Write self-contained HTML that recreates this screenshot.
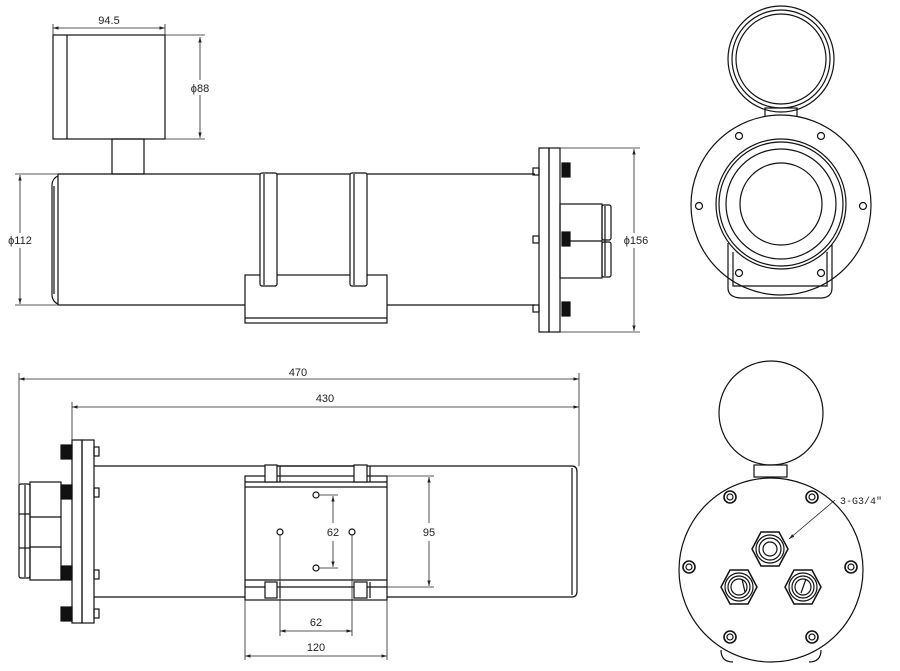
<!DOCTYPE html>
<html><head><meta charset="utf-8"><style>
html,body{margin:0;padding:0;background:#fff;}
svg{display:block;}
text{font-family:"Liberation Sans",sans-serif;font-size:11px;fill:#222;}
</style></head><body>
<svg width="900" height="671" viewBox="0 0 900 671" xmlns="http://www.w3.org/2000/svg">
<defs>
<marker id="a" viewBox="0 0 10 10" refX="10" refY="5" markerWidth="7" markerHeight="7" orient="auto-start-reverse"><path d="M0,2 L10,5 L0,8 z" fill="#222"/></marker>
</defs>
<g fill="none" stroke="#111" stroke-width="1.2">
<!-- ===== TOP SIDE VIEW ===== -->
<rect x="53" y="35" width="112" height="104"/>
<line x1="67" y1="35" x2="67" y2="139"/>
<rect x="112" y="139" width="32" height="35"/>
<line x1="58" y1="174" x2="535" y2="174"/>
<line x1="58" y1="305" x2="535" y2="305"/>
<line x1="58" y1="174" x2="58" y2="305"/>
<path d="M58,176 Q53,178 52,184 L52,296 Q53,302 58,304"/>
<line x1="54" y1="186" x2="54" y2="294"/>
<rect x="245" y="275" width="142" height="48" fill="#fff"/>
<line x1="245" y1="318" x2="387" y2="318"/>
<rect x="260" y="173" width="17" height="113" rx="2" fill="#fff"/>
<line x1="264" y1="174" x2="264" y2="285"/>
<rect x="350" y="173" width="17" height="113" rx="2" fill="#fff"/>
<line x1="354" y1="174" x2="354" y2="285"/>
<rect x="533" y="168" width="6" height="7"/>
<rect x="533" y="236" width="6" height="7"/>
<rect x="533" y="305" width="6" height="7"/>
<rect x="539" y="148" width="10" height="184"/>
<rect x="549" y="148" width="11" height="184"/>
<rect x="562" y="163" width="8" height="14" fill="#111"/>
<rect x="562" y="232" width="8" height="14" fill="#111"/>
<rect x="562" y="302" width="8" height="14" fill="#111"/>
<rect x="560" y="204" width="42" height="74"/>
<line x1="570" y1="241" x2="602" y2="241"/>
<rect x="602" y="205" width="9" height="35" rx="2"/>
<rect x="602" y="242" width="9" height="35" rx="2"/>
<line x1="605" y1="206" x2="605" y2="276"/>

<!-- ===== BOTTOM VIEW ===== -->
<rect x="72" y="440" width="10" height="183"/>
<rect x="82" y="440" width="12" height="183"/>
<rect x="94" y="447" width="5" height="9"/>
<rect x="94" y="488" width="5" height="9"/>
<rect x="94" y="570" width="5" height="9"/>
<rect x="94" y="609" width="5" height="9"/>
<rect x="61" y="445" width="11" height="14" fill="#111"/>
<rect x="61" y="485" width="11" height="14" fill="#111"/>
<rect x="61" y="566" width="11" height="14" fill="#111"/>
<rect x="61" y="607" width="11" height="14" fill="#111"/>
<rect x="30" y="482" width="31" height="98"/>
<line x1="30" y1="517" x2="61" y2="517"/>
<line x1="30" y1="547" x2="61" y2="547"/>
<rect x="19" y="484" width="11" height="94" rx="2"/>
<line x1="25" y1="485" x2="25" y2="577"/>
<line x1="19" y1="514" x2="30" y2="514"/>
<line x1="19" y1="548" x2="30" y2="548"/>
<path d="M94,466 L572,466 Q577,466 577,472 L577,591 Q577,597 572,597 L94,597"/>
<line x1="572" y1="468" x2="572" y2="595"/>
<rect x="245" y="476" width="142" height="124" fill="#fff"/>
<line x1="245" y1="482" x2="387" y2="482"/>
<line x1="245" y1="487" x2="387" y2="487"/>
<line x1="245" y1="580" x2="387" y2="580"/>
<line x1="245" y1="587" x2="387" y2="587"/>
<line x1="277" y1="466" x2="354" y2="466"/>
<rect x="265" y="465" width="12" height="17" fill="#fff"/>
<rect x="354" y="465" width="13" height="17" fill="#fff"/>
<rect x="265" y="582" width="12" height="16" fill="#fff"/>
<rect x="354" y="582" width="13" height="16" fill="#fff"/>
<line x1="280" y1="466" x2="280" y2="482"/>
<line x1="370" y1="466" x2="370" y2="482"/>
<line x1="280" y1="582" x2="280" y2="598"/>
<line x1="370" y1="582" x2="370" y2="598"/>
<circle cx="316" cy="495" r="3"/>
<circle cx="316" cy="568" r="3"/>
<circle cx="280" cy="532" r="3"/>
<circle cx="352" cy="532" r="3"/>
</g>

<g fill="none" stroke="#222" stroke-width="0.8">
<line x1="53" y1="24" x2="53" y2="35"/><line x1="165" y1="24" x2="165" y2="35"/>
<line x1="53" y1="28" x2="165" y2="28" marker-start="url(#a)" marker-end="url(#a)"/>
<line x1="165" y1="35" x2="205" y2="35"/><line x1="165" y1="139" x2="205" y2="139"/>
<line x1="200" y1="37" x2="200" y2="80" marker-start="url(#a)"/>
<line x1="200" y1="95" x2="200" y2="138" marker-end="url(#a)"/>
<line x1="15" y1="174" x2="58" y2="174"/><line x1="15" y1="305" x2="58" y2="305"/>
<line x1="20" y1="175" x2="20" y2="233" marker-start="url(#a)"/>
<line x1="20" y1="248" x2="20" y2="304" marker-end="url(#a)"/>
<line x1="560" y1="148" x2="640" y2="148"/><line x1="560" y1="332" x2="640" y2="332"/>
<line x1="634" y1="149" x2="634" y2="233" marker-start="url(#a)"/>
<line x1="634" y1="248" x2="634" y2="331" marker-end="url(#a)"/>
<line x1="19" y1="373" x2="19" y2="485"/><line x1="579" y1="373" x2="579" y2="466"/>
<line x1="19" y1="379" x2="579" y2="379" marker-start="url(#a)" marker-end="url(#a)"/>
<line x1="72" y1="402" x2="72" y2="440"/>
<line x1="72" y1="407" x2="579" y2="407" marker-start="url(#a)" marker-end="url(#a)"/>
<line x1="319" y1="495" x2="338" y2="495"/><line x1="319" y1="568" x2="338" y2="568"/>
<line x1="333" y1="496" x2="333" y2="523" marker-start="url(#a)"/>
<line x1="333" y1="541" x2="333" y2="567" marker-end="url(#a)"/>
<line x1="280" y1="535" x2="280" y2="636"/><line x1="352" y1="535" x2="352" y2="636"/>
<line x1="280" y1="631" x2="352" y2="631" marker-start="url(#a)" marker-end="url(#a)"/>
<line x1="245" y1="600" x2="245" y2="660"/><line x1="387" y1="600" x2="387" y2="660"/>
<line x1="245" y1="656" x2="387" y2="656" marker-start="url(#a)" marker-end="url(#a)"/>
<line x1="387" y1="476" x2="434" y2="476"/><line x1="387" y1="587" x2="434" y2="587"/>
<line x1="429" y1="477" x2="429" y2="523" marker-start="url(#a)"/>
<line x1="429" y1="541" x2="429" y2="586" marker-end="url(#a)"/>
</g>
<g>
<text x="109" y="24" text-anchor="middle">94.5</text>
<text x="200" y="92" text-anchor="middle">ϕ88</text>
<text x="20" y="244" text-anchor="middle">ϕ112</text>
<text x="636" y="244" text-anchor="middle">ϕ156</text>
<text x="298" y="376" text-anchor="middle">470</text>
<text x="325" y="402" text-anchor="middle">430</text>
<text x="333" y="536" text-anchor="middle">62</text>
<text x="316" y="626" text-anchor="middle">62</text>
<text x="316" y="651" text-anchor="middle">120</text>
<text x="429" y="536" text-anchor="middle">95</text>
<text x="840" y="504" style="font-family:'Liberation Mono',monospace;font-size:10px">3-G3/4"</text>
</g>

<!-- ===== RIGHT VIEWS ===== -->
<g fill="none" stroke="#111" stroke-width="1.2">
<circle cx="781" cy="59" r="53"/>
<circle cx="781" cy="59" r="49"/>
<circle cx="781" cy="59" r="45"/>
<rect x="765" y="108" width="32" height="10"/>
<circle cx="781" cy="205" r="90" fill="#fff"/>
<path d="M728,243 L728,288 Q728,297 740,298 L822,298 Q832,297 832,288 L832,243"/>
<path d="M733,252 L733,286 L827,286 L827,252"/>
<circle cx="781" cy="204" r="65" fill="#fff"/>
<circle cx="781" cy="204" r="62"/>
<circle cx="781" cy="204" r="55"/>
<circle cx="781" cy="204" r="41"/>
<circle cx="739" cy="136" r="3.5"/><circle cx="821" cy="136" r="3.5"/>
<circle cx="699" cy="206" r="3.5"/><circle cx="863" cy="206" r="3.5"/>
<circle cx="739" cy="273" r="3.5"/><circle cx="821" cy="273" r="3.5"/>

<circle cx="771" cy="413" r="52"/>
<rect x="754" y="465" width="33" height="12"/>
<path d="M721,650 Q721,662 733,662 M821,650 Q821,662 809,662"/>
<circle cx="771" cy="570" r="92" fill="#fff"/>
<g stroke-width="1.6">
<circle cx="730" cy="497" r="6"/><circle cx="812" cy="497" r="6"/>
<circle cx="689" cy="567" r="6"/><circle cx="851" cy="567" r="6"/>
<circle cx="730" cy="637" r="6"/><circle cx="812" cy="637" r="6"/>
</g>
<circle cx="730" cy="497" r="3"/><circle cx="812" cy="497" r="3"/>
<circle cx="689" cy="567" r="3"/><circle cx="851" cy="567" r="3"/>
<circle cx="730" cy="637" r="3"/><circle cx="812" cy="637" r="3"/>
<g stroke-width="1.5">
<polygon points="761,532 779,532 788,549 779,566 761,566 752,549"/>
<polygon points="730,570 748,570 757,587 748,604 730,604 721,587"/>
<polygon points="794,570 812,570 821,587 812,604 794,604 785,587"/>
</g>
<circle cx="770" cy="549" r="14"/><circle cx="770" cy="549" r="11"/><circle cx="770" cy="549" r="7"/>
<circle cx="739" cy="587" r="14"/><circle cx="739" cy="587" r="11"/><circle cx="739" cy="587" r="8"/>
<line x1="742" y1="579" x2="745" y2="592"/>
<circle cx="803" cy="587" r="14"/><circle cx="803" cy="587" r="11"/><circle cx="803" cy="587" r="8"/>
<line x1="806" y1="579" x2="801" y2="593"/>
</g>
<line x1="835" y1="500" x2="789" y2="539" stroke="#222" stroke-width="0.8" marker-end="url(#a)"/>
</svg>
</body></html>
